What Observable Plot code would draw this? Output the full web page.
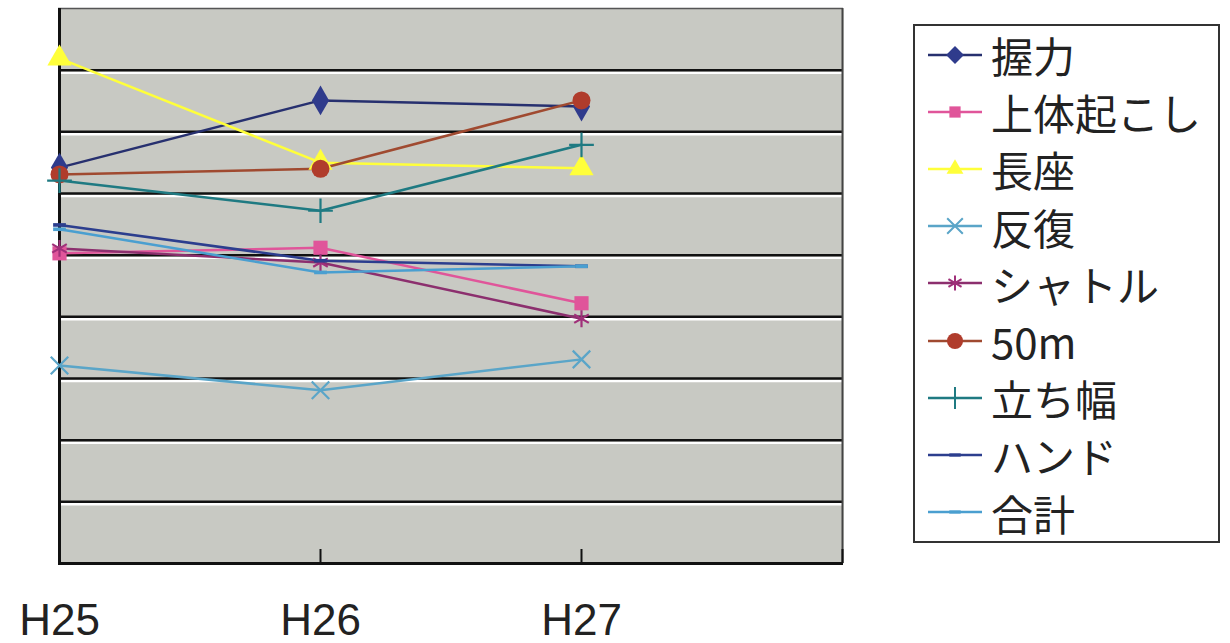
<!DOCTYPE html>
<html>
<head>
<meta charset="utf-8">
<script src="https://cdn.jsdelivr.net/npm/d3@7"></script>
<script src="https://cdn.jsdelivr.net/npm/@observablehq/plot@0.6"></script>
<style>
  body { margin: 0; background: #ffffff; }
  #wrap { position: relative; width: 1230px; height: 643px; overflow: hidden; }
  #chart { position: absolute; left: 0; top: 0; }
  #legend {
    position: absolute; left: 913px; top: 24px; width: 307px; height: 519px;
    border: 2px solid #333; box-sizing: border-box; padding-top: 0px;
    font-family: "Noto Sans CJK JP", "Noto Sans", sans-serif; font-size: 42px; color: #222;
  }
  .row { display: flex; align-items: center; height: 57.2px; line-height: 57px; }
  .row svg { margin-left: 11px; margin-right: 9px; flex: none; }
</style>
</head>
<body>
<div id="wrap"><div id="chart"></div><div id="legend"></div></div>
<script>
// ---- data ----
const years = ["H25", "H26", "H27"];
const xDomain = ["H25", "H26", "H27", ""];
const seriesNames = ["握力", "上体起こし", "長座", "反復", "シャトル", "50m", "立ち幅", "ハンド", "合計"];
const gripValues    = [64.2, 75.1, 74.1];
const situpValues   = [50.3, 51.2, 42.2];
const sitReachValues= [81.9, 65.0, 64.1];
const sideStepValues= [32.1, 28.1, 33.1];
const shuttleValues = [51.1, 48.8, 39.7];
const dash50Values  = [63.1, 64.0, 75.1];
const jumpValues    = [62.1, 57.2, 67.9];
const handValues    = [54.9, 49.1, 48.2];
const totalValues   = [54.2, 47.2, 48.2];
const gridValues = [10, 20, 30, 40, 50, 60, 70, 80];
const tickCats = ["H26", "H27", ""];

const seriesValues = [gripValues, situpValues, sitReachValues, sideStepValues, shuttleValues,
                      dash50Values, jumpValues, handValues, totalValues];

// ---- styles ----
const dashSymbol = { draw(ctx, size) { const w = Math.sqrt(size) * 1.2, h = w / 3.5; ctx.rect(-w / 2, -h / 2, w, h); } };
const styles = [
  { line: "#27306f", mark: "#2f3b8c", symbol: "diamond", r: 9, stroke: false },
  { line: "#e0559a", mark: "#e0559a", symbol: "square", r: 8, stroke: false },
  { line: "#ffff3a", mark: "#ffff3a", symbol: "triangle", r: 9, stroke: false },
  { line: "#5aa5c8", mark: "#5aa5c8", symbol: "times", r: 8, stroke: true },
  { line: "#8c2f6e", mark: "#a0307a", symbol: "asterisk", r: 8, stroke: true },
  { line: "#a04a30", mark: "#b03c2c", symbol: "circle", r: 9, stroke: false },
  { line: "#1f7a82", mark: "#1f7a82", symbol: "plus", r: 8, stroke: true },
  { line: "#2c3e8e", mark: "#2c3e8e", symbol: dashSymbol, r: 6, stroke: false },
  { line: "#4a9fd0", mark: "#4a9fd0", symbol: dashSymbol, r: 6, stroke: false }
];

const data = [];
seriesNames.forEach((name, i) => {
  years.forEach((yr, j) => data.push({ series: name, year: yr, value: seriesValues[i][j], idx: i }));
});

const marks = [
  Plot.frame({ fill: "#c8c9c3", stroke: null }),
  Plot.ruleY(gridValues, { stroke: "#ffffff", strokeWidth: 2.5, dy: 2.5 }),
  Plot.ruleY(gridValues, { stroke: "#111111", strokeWidth: 2.5 }),
  Plot.ruleY([90], { stroke: "#555", strokeWidth: 1.5 }),
  Plot.ruleX([""], { stroke: "#444", strokeWidth: 2 }),
  Plot.ruleX(tickCats, { stroke: "#111", strokeWidth: 2, insetTop: 541 }),
  Plot.ruleY([0], { stroke: "#111", strokeWidth: 3 }),
  Plot.ruleX(["H25"], { stroke: "#111", strokeWidth: 3 }),
  Plot.axisX({ tickSize: 0, tickPadding: 40, tickFormat: d => d, label: null, fontSize: 44,
               fontFamily: "Liberation Sans, sans-serif", fill: "#222", ariaLabel: "x-axis" })
];
seriesNames.forEach((name, i) => {
  const st = styles[i];
  const d = data.filter(r => r.idx === i);
  marks.push(Plot.line(d, { x: "year", y: "value", stroke: st.line, strokeWidth: 2.5 }));
});
seriesNames.forEach((name, i) => {
  const st = styles[i];
  const d = data.filter(r => r.idx === i);
  marks.push(Plot.dot(d, st.stroke
    ? { x: "year", y: "value", symbol: () => st.symbol, r: st.r, stroke: st.mark, strokeWidth: 2.2, fill: "none" }
    : { x: "year", y: "value", symbol: () => st.symbol, r: st.r, fill: st.mark, stroke: "none" }));
});

const chart = Plot.plot({
  width: 870, height: 643,
  marginLeft: 58, marginRight: 27, marginTop: 8, marginBottom: 80,
  x: { type: "point", domain: xDomain, padding: 0, axis: null, label: null },
  y: { domain: [0, 90], axis: null },
  style: { background: "transparent", fontFamily: "Liberation Sans, sans-serif" },
  marks
});
document.getElementById("chart").appendChild(chart);

// ---- legend ----
const legend = d3.select("#legend");
seriesNames.forEach((name, i) => {
  const st = styles[i];
  const row = legend.append("div").attr("class", "row");
  const svg = row.append("svg").attr("width", 56).attr("height", 24);
  svg.append("line").attr("x1", 2).attr("x2", 56).attr("y1", 12).attr("y2", 12)
     .attr("stroke", st.line).attr("stroke-width", 2.5);
  const symType = typeof st.symbol === "string"
    ? { diamond: d3.symbolDiamond2, square: d3.symbolSquare2, triangle: d3.symbolTriangle2,
        times: d3.symbolTimes, asterisk: d3.symbolAsterisk, circle: d3.symbolCircle, plus: d3.symbolPlus }[st.symbol]
    : st.symbol;
  const size = Math.PI * st.r * st.r * 0.8;
  svg.append("path").attr("transform", "translate(29,12)")
     .attr("d", d3.symbol(symType, size)())
     .attr("fill", st.stroke ? "none" : st.mark)
     .attr("stroke", st.stroke ? st.mark : "none")
     .attr("stroke-width", 2);
  row.append("span").text(name);
});
</script>
</body>
</html>
